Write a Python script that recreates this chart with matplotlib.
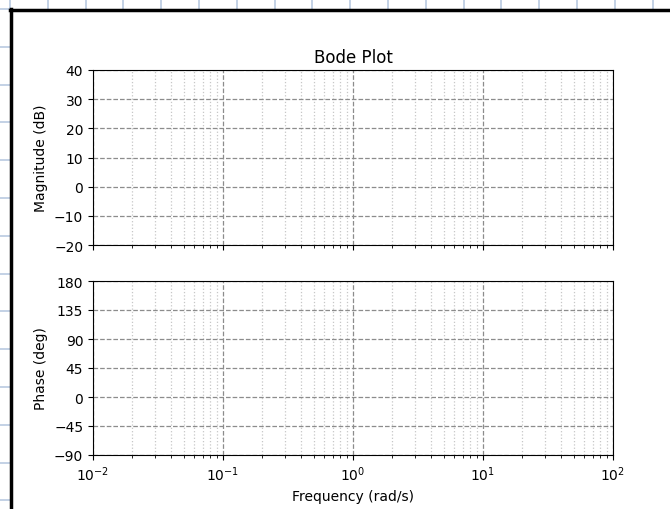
import matplotlib
matplotlib.use('Agg')
import matplotlib.pyplot as plt
from matplotlib.lines import Line2D
import numpy as np

W, H = 670, 510

# axis ranges and ticks
freq_lim = [1e-2, 1e2]
mag_ticks = [-20, -10, 0, 10, 20, 30, 40]
phase_ticks = [-90, -45, 0, 45, 90, 135, 180]


def fx(px):
    return px / W


def fy(py):
    return 1 - py / H


fig = plt.figure(figsize=(W / 100, H / 100), dpi=100)
fig.patch.set_facecolor('white')

# grid paper behind the figure window (strip on left and top)
paper = '#b9c9e0'
for k in range(18):
    x = 10 + 37.8 * k
    fig.add_artist(Line2D([fx(x), fx(x)], [fy(0), fy(10)], color=paper, lw=1.2))
for k in range(14):
    y = 10 + 37.8 * k
    fig.add_artist(Line2D([fx(0), fx(10)], [fy(y), fy(y)], color=paper, lw=1.2))
# black window border
fig.add_artist(Line2D([fx(11), fx(11)], [fy(10), fy(H)], color='black', lw=2.5))
fig.add_artist(Line2D([fx(10), fx(W)], [fy(11), fy(11)], color='black', lw=2.5))

ax_mag = fig.add_axes([fx(93), fy(246), fx(613) - fx(93), fy(71) - fy(246)])
ax_ph = fig.add_axes([fx(93), fy(456), fx(613) - fx(93), fy(282) - fy(456)], sharex=ax_mag)

for ax, ticks in [(ax_mag, mag_ticks), (ax_ph, phase_ticks)]:
    ax.set_xscale('log')
    ax.set_xlim(freq_lim)
    ax.set_ylim(ticks[0], ticks[-1])
    ax.set_yticks(ticks)
    ax.grid(True, which='major', linestyle='--', color='0.55', lw=0.9)
    ax.grid(True, which='minor', linestyle=':', color='0.78', lw=0.9)
    ax.tick_params(labelsize=10)

ax_mag.tick_params(labelbottom=False)
ax_mag.set_ylabel('Magnitude (dB)', fontsize=10)
ax_ph.set_ylabel('Phase (deg)', fontsize=10)
ax_ph.set_xlabel('Frequency (rad/s)', fontsize=10)
ax_mag.set_title('Bode Plot', fontsize=12)

plt.savefig('out.png', dpi=100)
